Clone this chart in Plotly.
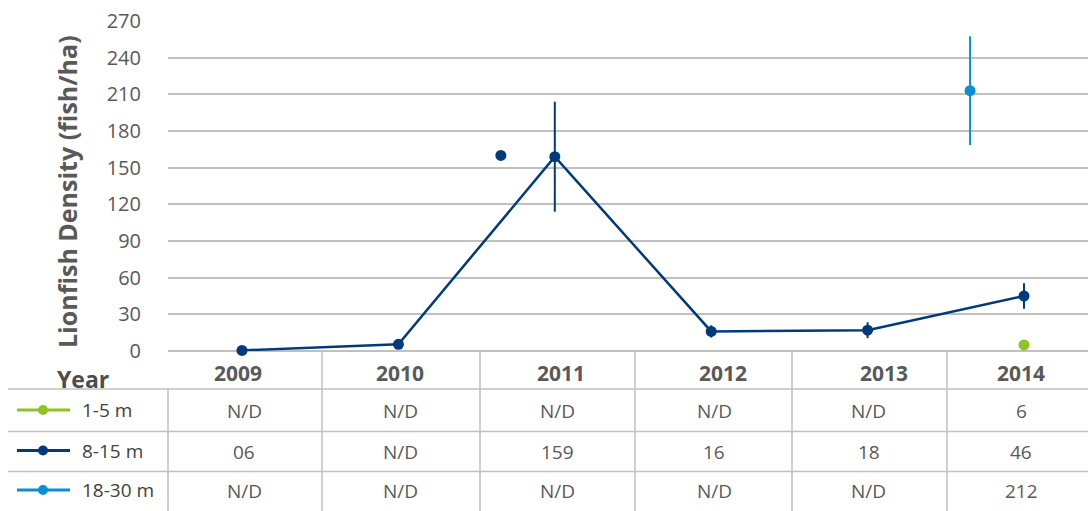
import plotly.graph_objects as go

W, H = 1088, 511

# ---------------- data ----------------
years = [2009, 2010, 2011, 2012, 2013, 2014]
year_labels = ["2009", "2010", "2011", "2012", "2013", "2014"]

dens_8_15 = [0.5, 5.5, 159, 16, 17, 45]
err_8_15 = [0, 0, 45, 5, 6.5, 10.5]

years_1_5 = [2014]
dens_1_5 = [5]

years_18_30 = [2014]
dens_18_30 = [213]
err_18_30 = [44.5]

years_8_15_extra = [2011]
dens_8_15_extra = [160]
side_offset = -0.345  # categories shifted left for side markers

series_names = ["1-5 m", "8-15 m", "18-30 m"]
tbl_1_5 = ["N/D", "N/D", "N/D", "N/D", "N/D", "6"]
tbl_8_15 = ["06", "N/D", "159", "16", "18", "46"]
tbl_18_30 = ["N/D", "N/D", "N/D", "N/D", "N/D", "212"]

y_ticks = [0, 30, 60, 90, 120, 150, 180, 210, 240, 270]

# ---------------- style ----------------
NAVY = "#003a7a"
BLUE = "#0b8fd3"
GREEN = "#8fc31f"
GRID = "#c0c0c0"
TXT = "#595959"
FONT = "Open Sans"

# pixel nudges of table texts (layout quirks of the original table)
year_label_dx = [-4, 2, 6, 12, 16, -3]
value_dx = [2, 2, 3, 3, 1, -3]
col_border_px = [168, 322, 480, 635, 792, 947]

def py(p):
    return 1 - p / H

def px(p):
    return p / W

x0_px, x1_px = 168, 1088
first_cat_px = 242.0
cat_w = 156.4
x_range = [2009 - (first_cat_px - x0_px) / cat_w, 2009 + (x1_px - first_cat_px) / cat_w]

fig = go.Figure()

fig.add_trace(go.Scatter(
    x=years, y=dens_8_15, mode="lines+markers",
    line=dict(color=NAVY, width=2.5),
    marker=dict(color=NAVY, size=11),
    error_y=dict(type="data", array=err_8_15, color=NAVY, thickness=2, width=0),
    cliponaxis=False, showlegend=False))

fig.add_trace(go.Scatter(
    x=[y + side_offset for y in years_8_15_extra], y=dens_8_15_extra, mode="markers",
    marker=dict(color=NAVY, size=11), cliponaxis=False, showlegend=False))

fig.add_trace(go.Scatter(
    x=[y + side_offset for y in years_18_30], y=dens_18_30, mode="markers",
    marker=dict(color=BLUE, size=11),
    error_y=dict(type="data", array=err_18_30, color=BLUE, thickness=2, width=0),
    cliponaxis=False, showlegend=False))

fig.add_trace(go.Scatter(
    x=years_1_5, y=dens_1_5, mode="markers",
    marker=dict(color=GREEN, size=11), cliponaxis=False, showlegend=False))

shapes = []
annotations = []

def ann(text, x, y, size, color=TXT, xref="paper", xanchor="center", angle=0, xshift=0):
    annotations.append(dict(text=text, xref=xref, yref="paper", x=x, y=y,
                            xanchor=xanchor, yanchor="middle", showarrow=False,
                            textangle=angle, xshift=xshift,
                            font=dict(family=FONT, size=size, color=color)))

# table horizontal lines
row_lines = [389, 431.5, 471.5]
for yl in row_lines:
    shapes.append(dict(type="line", xref="paper", yref="paper",
                       x0=px(8), x1=1, y0=py(yl), y1=py(yl),
                       line=dict(color=GRID, width=1.5)))
# vertical table lines
for i, bx in enumerate(col_border_px):
    top = 389 if i == 0 else 351
    shapes.append(dict(type="line", xref="paper", yref="paper",
                       x0=px(bx), x1=px(bx), y0=py(top), y1=0,
                       line=dict(color=GRID, width=1.5)))

# header row
ann("<b>Year</b>", px(83), py(379), 23, color="#4d4d4d")
for yr, lab, dx in zip(years, year_labels, year_label_dx):
    ann("<b>" + lab + "</b>", yr, py(373), 21, xref="x", xshift=dx)

row_y = [411, 451.5, 491]
rows = [tbl_1_5, tbl_8_15, tbl_18_30]
colors = [GREEN, NAVY, BLUE]
for ry, vals, col, name in zip(row_y, rows, colors, series_names):
    for yr, v, dx in zip(years, vals, value_dx):
        ann(v, yr, py(ry), 19, xref="x", xshift=dx)
    # legend key
    shapes.append(dict(type="line", xref="paper", yref="paper",
                       x0=px(17), x1=px(70), y0=py(ry - 1), y1=py(ry - 1),
                       line=dict(color=col, width=3)))
    shapes.append(dict(type="circle", xref="paper", yref="paper",
                       x0=px(38), x1=px(48), y0=py(ry + 4), y1=py(ry - 6),
                       fillcolor=col, line=dict(color=col, width=0)))
    ann(name, px(80), py(ry - 1), 19, color="#404040", xanchor="left")

# y-axis title
ann("<b>Lionfish Density (fish/ha)</b>", px(67), py(192), 25, angle=-90)

fig.update_layout(
    template="none",
    width=W, height=H,
    margin=dict(l=0, r=0, t=0, b=0, pad=0, autoexpand=False),
    paper_bgcolor="white", plot_bgcolor="white",
    xaxis=dict(domain=[px(x0_px), 1], range=x_range, showticklabels=False,
               showgrid=False, zeroline=False, showline=False, fixedrange=True,
               automargin=False),
    yaxis=dict(domain=[py(351), py(21)], range=[0, 270.05], tickvals=y_ticks,
               showgrid=True, gridcolor=GRID, gridwidth=1.5,
               zeroline=True, zerolinecolor=GRID, zerolinewidth=1.5,
               showline=False, ticks="", ticklabelstandoff=26, automargin=False,
               fixedrange=True,
               tickfont=dict(family=FONT, size=20, color=TXT)),
    shapes=shapes, annotations=annotations,
    font=dict(family=FONT),
)

fig.write_html(
    "out.html",
    config={"displayModeBar": False},
    post_script="document.body.style.margin='0';document.body.style.overflow='hidden';",
)
